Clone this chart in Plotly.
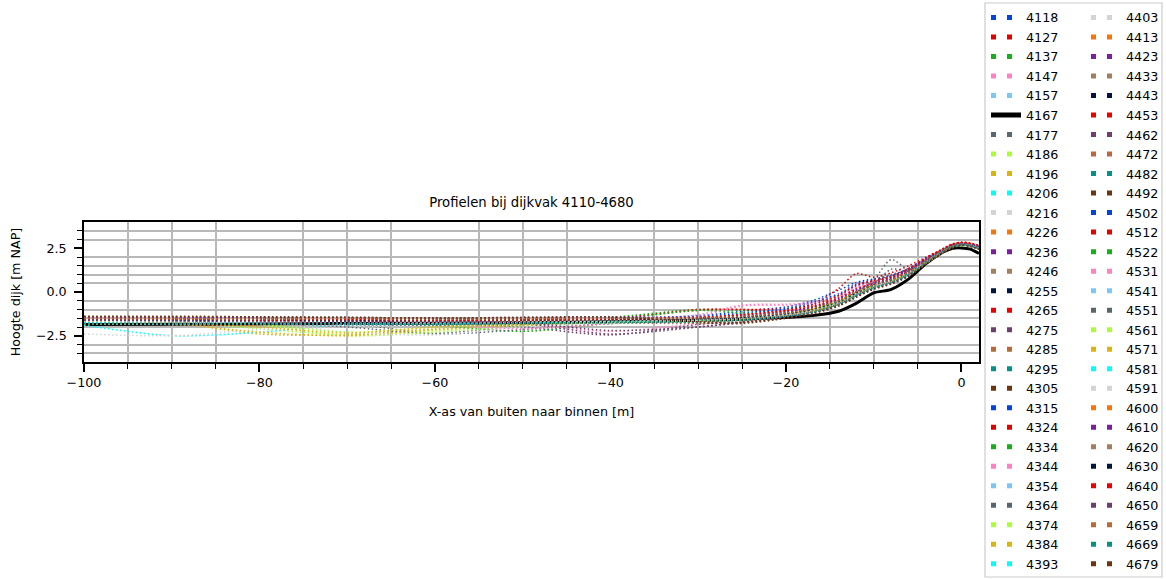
import plotly.graph_objects as go

# ---------------- data ----------------
x_m = [-100, -90, -80, -70, -60, -50, -40, -30, -25, -20, -17, -14, -12, -10, -8, -6, -4, -2, -1, 0, 1, 2]

h4118 = [-1.55, -1.6, -1.65, -1.6, -1.7, -1.62, -1.55, -1.35, -1.1, -0.85, -0.5, 0.1, 0.55, 0.75, 0.95, 1.35, 1.95, 2.45, 2.7, 2.75, 2.7, 2.55]
h4127 = [-1.5, -1.55, -1.5, -1.6, -1.62, -1.58, -1.5, -1.05, -1.0, -0.95, -0.7, 0.2, 1.05, 0.85, 1.1, 1.5, 2.0, 2.5, 2.75, 2.8, 2.75, 2.6]
h4137 = [-1.75, -1.8, -1.78, -1.85, -1.8, -1.75, -1.45, -1.0, -1.05, -1.15, -0.9, -0.45, 0.0, 0.4, 0.7, 1.1, 1.75, 2.35, 2.6, 2.7, 2.62, 2.45]
h4147 = [-1.6, -1.65, -1.7, -1.75, -1.8, -2.25, -1.7, -1.3, -0.75, -0.7, -0.6, -0.2, 0.3, 0.6, 0.8, 1.2, 1.8, 2.4, 2.65, 2.72, 2.68, 2.5]
h4157 = [-1.7, -1.75, -1.8, -1.7, -1.85, -1.8, -1.7, -1.65, -1.55, -1.35, -1.1, -0.65, -0.2, 0.3, 0.65, 1.1, 1.8, 2.4, 2.65, 2.72, 2.66, 2.5]
h4167 = [-1.85, -1.84, -1.83, -1.8, -1.78, -1.76, -1.7, -1.62, -1.55, -1.45, -1.35, -1.1, -0.65, -0.05, 0.15, 0.75, 1.64, 2.3, 2.5, 2.52, 2.45, 2.2]
h4177 = [-1.7, -1.72, -1.75, -1.8, -2.35, -1.9, -1.75, -1.65, -1.5, -1.3, -1.05, -0.55, 0.0, 0.7, 1.85, 1.3, 1.8, 2.4, 2.65, 2.75, 2.7, 2.55]
h4186 = [-1.75, -1.7, -2.1, -2.45, -2.2, -1.9, -1.75, -1.7, -1.6, -1.35, -1.1, -0.7, -0.25, 0.25, 0.55, 1.0, 1.65, 2.3, 2.55, 2.65, 2.6, 2.45]
h4196 = [-1.72, -1.75, -2.4, -2.45, -2.1, -1.85, -1.72, -1.68, -1.55, -1.3, -1.0, -0.55, -0.1, 0.35, 0.6, 1.05, 1.7, 2.35, 2.6, 2.7, 2.66, 2.5]
h4206 = [-1.9, -2.5, -2.3, -1.85, -1.8, -1.75, -1.7, -1.6, -1.5, -1.3, -1.05, -0.6, -0.15, 0.3, 0.55, 1.0, 1.7, 2.35, 2.6, 2.68, 2.62, 2.45]
h4216 = [-2.4, -2.5, -2.15, -2.0, -1.9, -1.8, -1.75, -1.65, -1.55, -1.3, -1.05, -0.6, -0.1, 0.35, 0.65, 1.1, 1.75, 2.4, 2.65, 2.75, 2.7, 2.55]
h4226 = [-1.6, -1.65, -1.9, -1.85, -1.7, -1.65, -1.6, -1.55, -1.45, -1.25, -1.0, -0.5, 0.0, 0.4, 0.7, 1.15, 1.8, 2.4, 2.65, 2.75, 2.7, 2.55]
h4236 = [-1.45, -1.5, -1.55, -1.5, -1.55, -1.6, -1.55, -1.5, -1.4, -1.2, -0.95, -0.5, -0.05, 0.4, 0.7, 1.1, 1.75, 2.4, 2.65, 2.75, 2.7, 2.55]
h4246 = [-1.55, -1.6, -1.55, -1.65, -1.7, -1.7, -1.75, -1.8, -1.7, -1.4, -1.15, -0.7, -0.2, 0.25, 0.55, 1.0, 1.7, 2.35, 2.6, 2.7, 2.65, 2.5]
h4255 = [-1.6, -1.6, -1.62, -1.65, -1.6, -1.62, -1.58, -1.5, -1.42, -1.25, -1.0, -0.55, -0.1, 0.35, 0.65, 1.1, 1.75, 2.4, 2.65, 2.75, 2.7, 2.55]
h4265 = [-1.55, -1.52, -1.6, -1.62, -1.65, -1.6, -1.55, -1.45, -1.3, -1.1, -0.85, -0.3, 0.2, 0.55, 0.85, 1.25, 1.85, 2.45, 2.7, 2.8, 2.75, 2.6]
h4275 = [-1.65, -1.7, -1.72, -1.75, -1.8, -2.0, -2.45, -1.85, -1.6, -1.35, -1.1, -0.65, -0.2, 0.3, 0.6, 1.05, 1.7, 2.35, 2.6, 2.7, 2.65, 2.5]
h4285 = [-1.42, -1.45, -1.5, -1.52, -1.5, -1.48, -1.5, -1.48, -1.4, -1.2, -0.95, -0.45, 0.0, 0.4, 0.7, 1.15, 1.8, 2.4, 2.65, 2.75, 2.7, 2.55]
h4295 = [-1.8, -1.75, -1.8, -1.85, -1.9, -1.85, -1.75, -1.65, -1.55, -1.35, -1.1, -0.7, -0.2, 0.25, 0.55, 1.0, 1.7, 2.35, 2.6, 2.7, 2.64, 2.48]
h4305 = [-1.4, -1.42, -1.45, -1.48, -1.5, -1.48, -1.45, -1.8, -1.75, -1.45, -1.2, -0.8, -0.3, 0.2, 0.5, 0.95, 1.65, 2.3, 2.58, 2.68, 2.63, 2.48]
h4315 = [-1.65, -1.6, -1.7, -1.75, -1.7, -1.8, -1.6, -1.5, -1.3, -1.0, -0.7, -0.2, 0.35, 0.6, 0.8, 1.2, 1.85, 2.45, 2.7, 2.78, 2.72, 2.58]
h4324 = [-1.6, -1.65, -1.62, -1.7, -1.75, -1.7, -1.65, -1.55, -1.45, -1.25, -1.0, -0.5, 0.05, 0.45, 0.75, 1.2, 1.85, 2.45, 2.72, 2.82, 2.78, 2.62]
h4334 = [-1.7, -1.72, -1.75, -1.7, -1.9, -2.25, -1.8, -1.65, -1.5, -1.3, -1.05, -0.6, -0.15, 0.3, 0.6, 1.05, 1.7, 2.35, 2.6, 2.7, 2.64, 2.5]
h4344 = [-1.7, -1.75, -1.8, -1.85, -1.8, -1.85, -2.25, -1.8, -1.55, -1.3, -1.05, -0.6, -0.1, 0.35, 0.6, 1.05, 1.7, 2.35, 2.6, 2.7, 2.65, 2.5]
h4354 = [-1.8, -1.85, -1.8, -1.9, -1.85, -1.8, -1.75, -1.7, -1.6, -1.4, -1.15, -0.7, -0.25, 0.2, 0.5, 0.95, 1.65, 2.3, 2.58, 2.68, 2.62, 2.45]
h4364 = [-1.75, -1.7, -1.75, -2.0, -2.4, -2.15, -1.8, -1.7, -1.55, -1.35, -1.1, -0.65, -0.1, 0.45, 1.3, 1.2, 1.75, 2.4, 2.65, 2.72, 2.66, 2.5]
h4374 = [-1.8, -1.85, -1.9, -2.5, -2.3, -1.95, -1.75, -1.65, -1.55, -1.35, -1.1, -0.6, -0.15, 0.3, 0.6, 1.05, 1.7, 2.35, 2.6, 2.7, 2.64, 2.48]
h4384 = [-1.75, -1.8, -2.3, -2.5, -2.15, -1.9, -1.75, -1.7, -1.6, -1.35, -1.05, -0.6, -0.15, 0.3, 0.55, 1.0, 1.7, 2.35, 2.6, 2.7, 2.64, 2.5]
h4393 = [-1.7, -1.75, -1.85, -1.8, -1.75, -1.7, -1.65, -1.6, -1.5, -1.3, -1.05, -0.6, -0.15, 0.3, 0.6, 1.05, 1.75, 2.4, 2.65, 2.75, 2.68, 2.52]
h4403 = [-1.6, -1.65, -1.7, -2.3, -2.45, -2.0, -1.75, -1.6, -1.5, -1.3, -1.05, -0.6, -0.1, 0.35, 0.65, 1.1, 1.75, 2.4, 2.65, 2.75, 2.7, 2.55]
h4413 = [-1.55, -1.85, -1.9, -1.8, -1.7, -1.65, -1.6, -1.5, -1.45, -1.25, -1.0, -0.55, 0.0, 0.4, 0.7, 1.15, 1.8, 2.4, 2.68, 2.78, 2.72, 2.58]
h4423 = [-1.45, -1.5, -1.45, -1.52, -1.55, -1.52, -1.5, -1.45, -1.3, -1.1, -0.85, -0.35, 0.15, 0.5, 0.8, 1.2, 1.85, 2.45, 2.7, 2.8, 2.75, 2.6]
h4433 = [-1.5, -1.55, -1.6, -1.6, -1.65, -1.62, -1.6, -1.55, -1.5, -1.35, -1.1, -0.7, -0.2, 0.25, 0.55, 1.0, 1.65, 2.3, 2.58, 2.68, 2.62, 2.45]
h4443 = [-1.55, -1.6, -1.58, -1.6, -1.65, -1.6, -1.62, -1.55, -1.45, -1.25, -1.0, -0.55, -0.05, 0.4, 0.7, 1.15, 1.8, 2.4, 2.66, 2.75, 2.7, 2.55]
h4453 = [-1.5, -1.5, -1.55, -1.55, -1.6, -1.58, -1.55, -1.0, -1.0, -1.1, -0.85, -0.35, 0.2, 0.55, 0.9, 1.3, 1.9, 2.5, 2.75, 2.85, 2.8, 2.65]
h4462 = [-1.65, -1.7, -1.75, -1.7, -1.75, -1.8, -2.4, -2.0, -1.7, -1.4, -1.15, -0.7, -0.2, 0.25, 0.55, 1.0, 1.65, 2.3, 2.58, 2.68, 2.62, 2.45]
h4472 = [-1.5, -1.55, -1.5, -1.55, -1.6, -1.55, -1.5, -1.5, -1.4, -1.2, -0.95, -0.5, 0.0, 0.4, 0.7, 1.15, 1.8, 2.4, 2.65, 2.75, 2.7, 2.55]
h4482 = [-1.75, -1.8, -1.75, -1.8, -1.85, -1.8, -1.7, -1.7, -1.6, -1.4, -1.15, -0.7, -0.2, 0.25, 0.55, 1.0, 1.7, 2.35, 2.6, 2.7, 2.64, 2.48]
h4492 = [-1.4, -1.45, -1.42, -1.45, -1.5, -1.5, -1.48, -1.75, -1.8, -1.5, -1.2, -0.75, -0.25, 0.2, 0.5, 0.95, 1.65, 2.3, 2.58, 2.68, 2.62, 2.45]
h4502 = [-1.6, -1.62, -1.65, -1.6, -1.7, -1.6, -1.5, -1.4, -1.2, -0.95, -0.6, -0.1, 0.45, 0.7, 0.9, 1.3, 1.9, 2.45, 2.7, 2.78, 2.72, 2.58]
h4512 = [-1.55, -1.6, -1.6, -1.65, -1.7, -1.65, -1.6, -1.5, -1.4, -1.2, -0.95, -0.45, 0.05, 0.45, 0.75, 1.2, 1.85, 2.45, 2.7, 2.8, 2.75, 2.6]
h4522 = [-1.7, -1.75, -1.7, -1.75, -1.8, -1.8, -1.6, -1.05, -1.2, -1.2, -1.0, -0.5, 0.0, 0.4, 0.7, 1.1, 1.75, 2.4, 2.65, 2.72, 2.66, 2.5]
h4531 = [-1.7, -1.75, -1.8, -1.8, -1.85, -2.1, -1.8, -1.4, -0.8, -0.75, -0.65, -0.25, 0.25, 0.55, 0.75, 1.15, 1.8, 2.4, 2.66, 2.74, 2.68, 2.52]
h4541 = [-1.8, -1.85, -1.85, -1.9, -1.85, -1.8, -1.75, -1.65, -1.55, -1.35, -1.1, -0.65, -0.2, 0.25, 0.55, 1.0, 1.7, 2.35, 2.6, 2.7, 2.64, 2.48]
h4551 = [-1.75, -1.8, -1.8, -1.85, -1.9, -1.85, -1.75, -1.65, -1.55, -1.35, -1.1, -0.6, 0.0, 0.55, 1.0, 1.25, 1.8, 2.4, 2.65, 2.72, 2.66, 2.5]
h4561 = [-1.8, -1.8, -1.85, -2.3, -2.0, -1.85, -1.75, -1.7, -1.6, -1.4, -1.15, -0.7, -0.2, 0.25, 0.55, 1.0, 1.7, 2.35, 2.6, 2.7, 2.64, 2.48]
h4571 = [-1.7, -1.75, -2.0, -2.35, -2.0, -1.85, -1.7, -1.65, -1.55, -1.35, -1.1, -0.65, -0.15, 0.3, 0.6, 1.05, 1.7, 2.35, 2.6, 2.7, 2.64, 2.5]
h4581 = [-1.75, -1.8, -1.75, -1.8, -1.85, -1.75, -1.7, -1.6, -1.5, -1.3, -1.05, -0.55, -0.05, 0.35, 0.65, 1.1, 1.75, 2.4, 2.65, 2.74, 2.68, 2.52]
h4591 = [-1.65, -1.7, -1.7, -1.75, -1.75, -1.7, -1.65, -1.6, -1.5, -1.3, -1.05, -0.6, -0.1, 0.35, 0.65, 1.1, 1.75, 2.4, 2.65, 2.74, 2.68, 2.52]
h4600 = [-1.55, -1.6, -1.65, -1.6, -1.65, -1.6, -1.55, -1.5, -1.4, -1.2, -0.95, -0.5, 0.05, 0.45, 0.75, 1.2, 1.85, 2.45, 2.7, 2.8, 2.75, 2.6]
h4610 = [-1.45, -1.42, -1.48, -1.45, -1.5, -1.45, -1.42, -1.45, -1.35, -1.15, -0.9, -0.4, 0.1, 0.5, 0.8, 1.25, 1.85, 2.45, 2.7, 2.8, 2.75, 2.6]
h4620 = [-1.55, -1.55, -1.6, -1.62, -1.6, -1.65, -1.6, -1.55, -1.5, -1.35, -1.1, -0.65, -0.15, 0.3, 0.6, 1.05, 1.7, 2.35, 2.6, 2.7, 2.65, 2.5]
h4630 = [-1.6, -1.62, -1.6, -1.65, -1.62, -1.6, -1.58, -1.52, -1.45, -1.25, -1.0, -0.55, -0.05, 0.4, 0.7, 1.15, 1.8, 2.4, 2.66, 2.76, 2.7, 2.55]
h4640 = [-1.55, -1.55, -1.6, -1.58, -1.62, -1.6, -1.55, -1.45, -1.3, -1.05, -0.75, -0.2, 0.4, 0.65, 0.9, 1.35, 1.95, 2.5, 2.75, 2.85, 2.8, 2.65]
h4650 = [-1.6, -1.65, -1.7, -1.72, -1.7, -1.75, -2.2, -2.0, -1.75, -1.45, -1.2, -0.75, -0.25, 0.2, 0.5, 0.95, 1.65, 2.3, 2.58, 2.68, 2.62, 2.45]
h4659 = [-1.5, -1.52, -1.55, -1.5, -1.55, -1.52, -1.5, -1.48, -1.4, -1.2, -0.95, -0.5, 0.0, 0.4, 0.7, 1.15, 1.8, 2.4, 2.65, 2.75, 2.7, 2.55]
h4669 = [-1.8, -1.8, -1.85, -1.8, -1.85, -1.8, -1.75, -1.7, -1.6, -1.4, -1.15, -0.7, -0.2, 0.25, 0.55, 1.0, 1.7, 2.35, 2.6, 2.7, 2.64, 2.48]
h4679 = [-1.4, -1.38, -1.42, -1.45, -1.48, -1.45, -1.42, -1.7, -1.75, -1.5, -1.25, -0.8, -0.3, 0.15, 0.45, 0.9, 1.6, 2.3, 2.58, 2.68, 2.62, 2.45]

profile_ids = ["4118", "4127", "4137", "4147", "4157", "4167", "4177", "4186", "4196", "4206",
               "4216", "4226", "4236", "4246", "4255", "4265", "4275", "4285", "4295", "4305",
               "4315", "4324", "4334", "4344", "4354", "4364", "4374", "4384", "4393",
               "4403", "4413", "4423", "4433", "4443", "4453", "4462", "4472", "4482", "4492",
               "4502", "4512", "4522", "4531", "4541", "4551", "4561", "4571", "4581", "4591",
               "4600", "4610", "4620", "4630", "4640", "4650", "4659", "4669", "4679"]
heights = [h4118, h4127, h4137, h4147, h4157, h4167, h4177, h4186, h4196, h4206,
           h4216, h4226, h4236, h4246, h4255, h4265, h4275, h4285, h4295, h4305,
           h4315, h4324, h4334, h4344, h4354, h4364, h4374, h4384, h4393,
           h4403, h4413, h4423, h4433, h4443, h4453, h4462, h4472, h4482, h4492,
           h4502, h4512, h4522, h4531, h4541, h4551, h4561, h4571, h4581, h4591,
           h4600, h4610, h4620, h4630, h4640, h4650, h4659, h4669, h4679]
highlight_id = "4167"

x_tickvals = [-100, -80, -60, -40, -20, 0]
x_ticktext = ["\u2212100", "\u221280", "\u221260", "\u221240", "\u221220", "0"]
x_minor = [-95, -90, -85, -75, -70, -65, -55, -50, -45, -35, -30, -25, -15, -10, -5]
y_tickvals = [-2.5, 0, 2.5]
y_ticktext = ["\u22122.5", "0.0", "2.5"]
y_minor = [-3.5, -3, -2, -1.5, -1, -0.5, 0.5, 1, 1.5, 2, 3, 3.5]

# ---------------- style ----------------
palette = ["#0343df", "#e50000", "#15b01a", "#ff81c0", "#7bc8f6", "#5a666e", "#aaff32",
           "#dbb40c", "#00ffff", "#d3d5d3", "#f97306", "#7e1e9c", "#a2805d", "#01153e",
           "#ee0000", "#6e3f6e", "#b9693a", "#029386", "#6e3510"]
FONT = "DejaVu Sans"
W, H = 1166, 579
L, R, T, B = 84, 187, 222, 217

fig = go.Figure()

colors = []
k = 0
for pid in profile_ids:
    if pid == highlight_id:
        colors.append("black")
    else:
        colors.append(palette[k % len(palette)])
        k += 1

for pid, h, c in zip(profile_ids, heights, colors):
    if pid == highlight_id:
        line = dict(color=c, width=3, shape="spline", smoothing=0.8)
    else:
        line = dict(color=c, width=1.5, dash="1.5px,2.5px", shape="spline", smoothing=0.8)
    fig.add_trace(go.Scatter(x=x_m, y=h, mode="lines", line=line, name=pid,
                             showlegend=False, hoverinfo="skip"))

# legend entries (two columns)
for i, (pid, c) in enumerate(zip(profile_ids, colors)):
    if pid == highlight_id:
        line = dict(color=c, width=5)
    else:
        line = dict(color=c, width=5, dash="5px,11px")
    fig.add_trace(go.Scatter(x=[None], y=[None], mode="lines", line=line, name=pid,
                             showlegend=True, legend="legend" if i < 29 else "legend2",
                             hoverinfo="skip"))

legend_common = dict(xref="container", yref="container", xanchor="left", yanchor="top",
                     y=1 - 2.75 / H, bgcolor="rgba(0,0,0,0)", borderwidth=0,
                     font=dict(family=FONT, size=12.7, color="black"),
                     tracegroupgap=0, maxheight=H)

fig.update_layout(
    width=W, height=H,
    margin=dict(l=L, r=R, t=T, b=B, autoexpand=False),
    paper_bgcolor="white", plot_bgcolor="white",
    font=dict(family=FONT, size=12.7, color="black"),
    title=dict(text="Profielen bij dijkvak 4110-4680", x=0.5, xref="paper", xanchor="center",
               y=1 - 202 / H, yref="container", yanchor="middle",
               font=dict(family=FONT, size=13.2, color="black")),
    legend=dict(x=986 / W, **legend_common),
    legend2=dict(x=1086 / W, **legend_common),
    showlegend=True,
    shapes=[dict(type="rect", xref="paper", yref="paper",
                 x0=(985 - L) / (W - L - R), x1=(1162 - L) / (W - L - R),
                 y0=(H - B - 577) / (H - T - B), y1=(H - B - 3) / (H - T - B),
                 line=dict(color="#cccccc", width=1.2), fillcolor="rgba(0,0,0,0)", layer="below")],
)

fig.update_xaxes(
    range=[-100, 2], tickmode="array", tickvals=x_tickvals, ticktext=x_ticktext,
    ticks="outside", ticklen=8, tickwidth=1.5, tickcolor="black",
    showline=True, linecolor="black", linewidth=1.5, mirror=True,
    showgrid=False, zeroline=False,
    tickfont=dict(family=FONT, size=12.7, color="black"),
    minor=dict(tickmode="array", tickvals=x_minor, ticks="outside", ticklen=5, tickwidth=1.2,
               tickcolor="black", showgrid=True, gridcolor="#b8b8b8", gridwidth=2),
    title=dict(text="X-as van buiten naar binnen [m]", standoff=18,
               font=dict(family=FONT, size=12.7, color="black")),
)
fig.update_yaxes(
    range=[-4, 4], tickmode="array", tickvals=y_tickvals, ticktext=y_ticktext,
    ticks="outside", ticklen=8, tickwidth=1.5, tickcolor="black",
    showline=True, linecolor="black", linewidth=1.5, mirror=True,
    showgrid=False, zeroline=False, ticklabelstandoff=5,
    tickfont=dict(family=FONT, size=12.7, color="black"),
    minor=dict(tickmode="array", tickvals=y_minor, ticks="outside", ticklen=5, tickwidth=1.2,
               tickcolor="black", showgrid=True, gridcolor="#b8b8b8", gridwidth=2),
    title=dict(text="Hoogte dijk [m NAP]", standoff=12,
               font=dict(family=FONT, size=12.7, color="black")),
)

fig.write_html("out.html", config={"displayModeBar": False},
               post_script="document.body.style.margin='0';document.body.style.overflow='hidden';")
